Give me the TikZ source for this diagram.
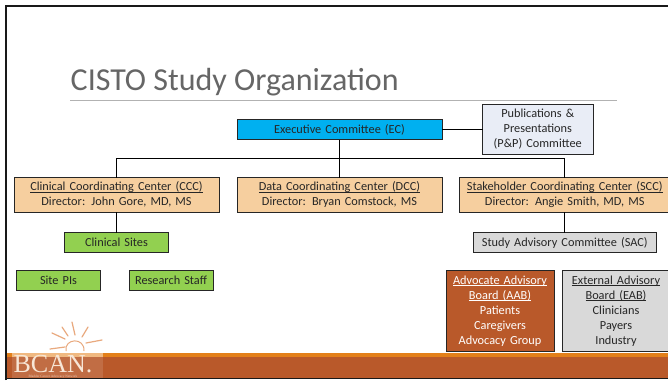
\documentclass[tikz,border=0pt]{standalone}
\usepackage{fontspec}
\setmainfont{Carlito}
\newfontfamily\logofont{Liberation Serif}
\newsavebox{\ulnbox}
\newcommand{\uln}[1]{\sbox{\ulnbox}{#1}\leavevmode\rlap{\raisebox{-1.8pt}{\rule{\wd\ulnbox}{0.6pt}}}\usebox{\ulnbox}}
\definecolor{ecblue}{HTML}{00B0F0}
\definecolor{pale}{HTML}{E9EDF6}
\definecolor{peach}{HTML}{F6CF9F}
\definecolor{leaf}{HTML}{92D050}
\definecolor{greybox}{HTML}{D9D9D9}
\definecolor{rust}{HTML}{B9592A}
\definecolor{stripe}{HTML}{E3801A}
\definecolor{ray}{HTML}{E9A97E}
\definecolor{cream}{HTML}{F7E6D6}
\tikzset{
 x=1pt,y=-1pt,
 orgbox/.style={draw=black!85,line width=0.9pt,anchor=north west,inner sep=0pt,outer sep=0pt,align=center,text=black!85,font=\fontsize{12.3}{15}\selectfont},
 link/.style={draw=black,line width=0.9pt},
 rayline/.style={draw=ray,line width=1.2pt,line cap=round}
}
\newcommand{\orgnode}[7]{\node[orgbox,fill=#2,text width=#5pt-#3pt,minimum height=#6pt-#4pt] (#1) at (#3,#4) {#7};}
\begin{document}
\begin{tikzpicture}
\useasboundingbox (0,0) rectangle (668,380);
\fill[white] (0,0) rectangle (668,380);
% footer
\fill[rust] (6,357) rectangle (668,378);
\fill[stripe] (6,353) rectangle (668,357);
% title
\node[anchor=base west,inner sep=0pt,text=black!60,font=\fontsize{32}{34}\selectfont] (title) at (70.5,90) {CISTO Study Organization};
\coordinate (ruleL) at (70,100.5);
\coordinate (ruleR) at (617,100.5);
\draw[draw=black!30,line width=0.9pt] (ruleL) -- (ruleR);
% boxes
\orgnode{ec}{ecblue}{237}{119.5}{442}{139.5}{Executive Committee (EC)}
\orgnode{pp}{pale}{482.5}{104.5}{593}{154.5}{Publications \&\\Presentations\\(P\&P) Committee}
\orgnode{ccc}{peach}{14}{177.5}{219}{212}{\uln{Clinical Coordinating Center (CCC)}\\Director: John Gore, MD, MS}
\orgnode{dcc}{peach}{237}{177.5}{442}{212}{\uln{Data Coordinating Center (DCC)}\\Director: Bryan Comstock, MS}
\orgnode{scc}{peach}{459.5}{177.5}{670}{212}{\uln{Stakeholder Coordinating Center (SCC)}\\Director: Angie Smith, MD, MS}
\orgnode{sites}{leaf}{64.5}{232.5}{168.5}{252.5}{Clinical Sites}
\orgnode{pis}{leaf}{16.5}{270.5}{100.5}{290.5}{Site PIs}
\orgnode{staff}{leaf}{129}{270.5}{213}{290.5}{Research Staff}
\orgnode{sac}{greybox}{473.5}{232.5}{656}{252.5}{Study Advisory Committee (SAC)}
\orgnode{aab}{rust}{446}{270.5}{554}{351}{\color{white}\uln{Advocate Advisory}\\\color{white}\uln{Board (AAB)}\\\color{white}Patients\\\color{white}Caregivers\\\color{white}Advocacy Group}
\orgnode{eab}{greybox}{562}{270.5}{670}{351}{\uln{External Advisory}\\\uln{Board (EAB)}\\Clinicians\\Payers\\Industry}
% connectors
\coordinate (busL) at (116.5,158);
\coordinate (busR) at (564.5,158);
\draw[link] (ec.east) -- (pp.west |- ec.east);
\draw[link] (ec.south) -- (dcc.north);
\draw[link] (ccc.north -| busL) -- (busL) -- (busR) -- (scc.north -| busR);
\draw[link] (sites.north) -- (ccc.south -| sites.north);
\draw[link] (sac.north) -- (scc.south -| sac.north);
% logo
\fill[white] (12,320) rectangle (103,353);
\fill[stripe!55!white] (12,353) rectangle (103,357);
\fill[rust!88!white] (12,357) rectangle (103,378);
\draw[draw=ray,line width=1pt] (66,351) .. controls (64,338) and (85,337) .. (84,351);
\draw[rayline] (52,333) -- (65,339);
\draw[rayline] (72,322) -- (75,335);
\draw[rayline] (88,327) -- (82,337);
\draw[rayline] (102,340) -- (86,343);
\draw[rayline] (50,349) -- (65,347);
\draw[rayline] (62,327) -- (68,336);
\node[anchor=base,inner sep=0pt,text=cream,font=\logofont\fontsize{26}{26}\selectfont] (bcan) at (53,372) {BCAN.};
\node[anchor=base,inner sep=0pt,text=cream!80!rust,font=\logofont\fontsize{3.4}{4}\selectfont] (net) at (53,377.3) {Bladder Cancer Advocacy Network};
% frame
\draw[draw=black!90,line width=2pt] (5.5,380) -- (5.5,6) -- (668,6);
\draw[draw=black!90,line width=1.6pt] (5.5,378.5) -- (668,378.5);
\end{tikzpicture}
\end{document}
